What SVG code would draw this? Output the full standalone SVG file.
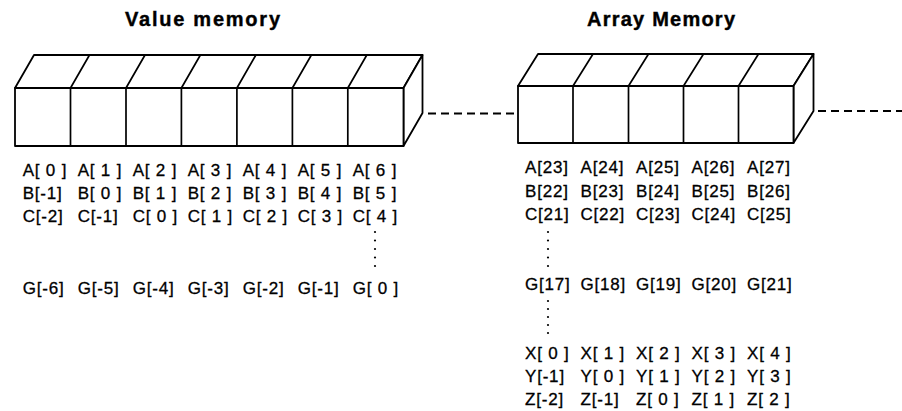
<svg xmlns="http://www.w3.org/2000/svg" width="902" height="411" viewBox="0 0 902 411">
<style>
  .bg { fill: #ffffff; }
  .face { fill: #ffffff; stroke: #000000; stroke-width: 1.8; stroke-linejoin: round; }
  .div { fill: none; stroke: #000000; stroke-width: 1.7; }
  .dash { fill: none; stroke: #000000; stroke-width: 1.8; stroke-dasharray: 8 5; }
  .title { font-family: "Liberation Sans", Arial, Helvetica, sans-serif; font-size: 20px; font-weight: bold; fill: #000000; stroke: #000000; stroke-width: 0.4px; }
  .lbl { font-family: "Liberation Sans", Arial, Helvetica, sans-serif; font-size: 17px; letter-spacing: 0.8px; fill: #000000; stroke: #000000; stroke-width: 0.3px; }
  .dot { fill: #000000; }
</style>
<rect class="bg" x="0" y="0" width="902" height="411"/>

<g id="titles">
  <text class="title" x="125" y="26" textLength="155" lengthAdjust="spacing">Value memory</text>
  <text class="title" x="587" y="26" textLength="148" lengthAdjust="spacing">Array Memory</text>
</g>

<g id="value-memory">
  <polygon class="face" points="15,88 34,55 422.5,55 403.5,88"/>
  <polygon class="face" points="403.5,88 422.5,55 422.5,113 403.5,146"/>
  <rect class="face" x="15" y="88" width="388.5" height="58"/>
  <path class="div" d="M70.5,88 V146 M126,88 V146 M181.4,88 V146 M236.9,88 V146 M292.4,88 V146 M347.8,88 V146"/>
  <path class="div" d="M70.5,88 L89.5,55 M126,88 L145,55 M181.4,88 L200.4,55 M236.9,88 L255.9,55 M292.4,88 L311.4,55 M347.8,88 L366.8,55"/>
</g>

<g id="array-memory">
  <polygon class="face" points="518,86 538,54 813.5,54 793.5,86"/>
  <polygon class="face" points="793.5,86 813.5,54 813.5,111 793.5,143"/>
  <rect class="face" x="518" y="86" width="275.5" height="57"/>
  <path class="div" d="M573,86 V143 M628.5,86 V143 M683.5,86 V143 M738.5,86 V143"/>
  <path class="div" d="M573,86 L593,54 M628.5,86 L648.5,54 M683.5,86 L703.5,54 M738.5,86 L758.5,54"/>
</g>

<g id="connectors">
  <line class="dash" x1="428" y1="113.5" x2="516" y2="113.5"/>
  <line class="dash" x1="818" y1="111" x2="902" y2="111"/>
</g>

<g id="value-labels" class="lbl">
  <text x="22.7" y="176">A[ 0 ]</text><text x="77.7" y="176">A[ 1 ]</text><text x="132.7" y="176">A[ 2 ]</text><text x="187.7" y="176">A[ 3 ]</text><text x="242.7" y="176">A[ 4 ]</text><text x="297.7" y="176">A[ 5 ]</text><text x="352.7" y="176">A[ 6 ]</text>
  <text x="22.7" y="199">B[-1]</text><text x="77.7" y="199">B[ 0 ]</text><text x="132.7" y="199">B[ 1 ]</text><text x="187.7" y="199">B[ 2 ]</text><text x="242.7" y="199">B[ 3 ]</text><text x="297.7" y="199">B[ 4 ]</text><text x="352.7" y="199">B[ 5 ]</text>
  <text x="22.7" y="222">C[-2]</text><text x="77.7" y="222">C[-1]</text><text x="132.7" y="222">C[ 0 ]</text><text x="187.7" y="222">C[ 1 ]</text><text x="242.7" y="222">C[ 2 ]</text><text x="297.7" y="222">C[ 3 ]</text><text x="352.7" y="222">C[ 4 ]</text>
  <text x="22.7" y="294">G[-6]</text><text x="77.7" y="294">G[-5]</text><text x="132.7" y="294">G[-4]</text><text x="187.7" y="294">G[-3]</text><text x="242.7" y="294">G[-2]</text><text x="297.7" y="294">G[-1]</text><text x="352.7" y="294">G[ 0 ]</text>
</g>
<g id="value-dots">
  <circle class="dot" cx="375" cy="232" r="1.1"/><circle class="dot" cx="375" cy="240.5" r="1.1"/><circle class="dot" cx="375" cy="249" r="1.1"/><circle class="dot" cx="375" cy="257.5" r="1.1"/><circle class="dot" cx="375" cy="266" r="1.1"/>
</g>

<g id="array-labels" class="lbl">
  <text x="525" y="173">A[23]</text><text x="580.5" y="173">A[24]</text><text x="636" y="173">A[25]</text><text x="691.5" y="173">A[26]</text><text x="747" y="173">A[27]</text>
  <text x="525" y="197">B[22]</text><text x="580.5" y="197">B[23]</text><text x="636" y="197">B[24]</text><text x="691.5" y="197">B[25]</text><text x="747" y="197">B[26]</text>
  <text x="525" y="220">C[21]</text><text x="580.5" y="220">C[22]</text><text x="636" y="220">C[23]</text><text x="691.5" y="220">C[24]</text><text x="747" y="220">C[25]</text>
  <text x="525" y="290">G[17]</text><text x="580.5" y="290">G[18]</text><text x="636" y="290">G[19]</text><text x="691.5" y="290">G[20]</text><text x="747" y="290">G[21]</text>
  <text x="525" y="359">X[ 0 ]</text><text x="580.5" y="359">X[ 1 ]</text><text x="636" y="359">X[ 2 ]</text><text x="691.5" y="359">X[ 3 ]</text><text x="747" y="359">X[ 4 ]</text>
  <text x="525" y="382">Y[-1]</text><text x="580.5" y="382">Y[ 0 ]</text><text x="636" y="382">Y[ 1 ]</text><text x="691.5" y="382">Y[ 2 ]</text><text x="747" y="382">Y[ 3 ]</text>
  <text x="525" y="405">Z[-2]</text><text x="580.5" y="405">Z[-1]</text><text x="636" y="405">Z[ 0 ]</text><text x="691.5" y="405">Z[ 1 ]</text><text x="747" y="405">Z[ 2 ]</text>
</g>
<g id="array-dots">
  <circle class="dot" cx="548" cy="232" r="1.1"/><circle class="dot" cx="548" cy="240.5" r="1.1"/><circle class="dot" cx="548" cy="249" r="1.1"/><circle class="dot" cx="548" cy="257.5" r="1.1"/><circle class="dot" cx="548" cy="266" r="1.1"/>
  <circle class="dot" cx="548" cy="301" r="1.1"/><circle class="dot" cx="548" cy="309" r="1.1"/><circle class="dot" cx="548" cy="317" r="1.1"/><circle class="dot" cx="548" cy="325" r="1.1"/><circle class="dot" cx="548" cy="333" r="1.1"/>
</g>
</svg>
